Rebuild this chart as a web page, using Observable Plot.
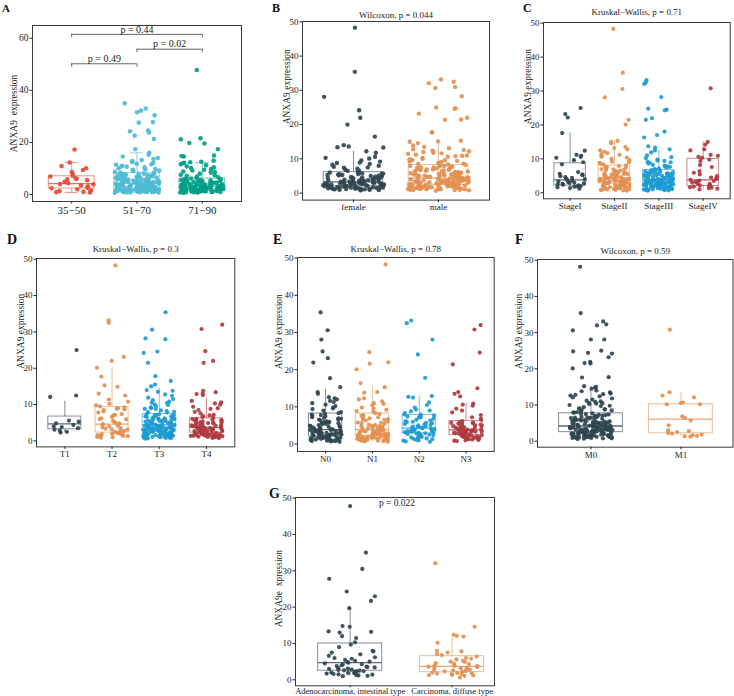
<!DOCTYPE html>
<html><head><meta charset="utf-8">
<script src="https://cdn.jsdelivr.net/npm/d3@7"></script>
<script src="https://cdn.jsdelivr.net/npm/@observablehq/plot@0.6"></script>
<style>
body{margin:0;background:#fff;}
#fig{position:relative;width:734px;height:696px;overflow:hidden;font-family:"Liberation Serif",serif;background:#fff;}
.panel{position:absolute;}
.letter{position:absolute;font-weight:bold;line-height:1;color:#111;font-family:"Liberation Serif",serif;}
</style></head><body><div id="fig"></div>
<script>
// ---------------- data ----------------
const ageCats = ["35−50","51−70","71−90"];
const age35_50 = [17.3,12.3,10.9,10.1,9.4,8.6,8.0,7.2,6.9,6.2,6.0,5.8,5.5,4.9,4.3,4.0,3.9,3.5,3.1,2.6,2.4,2.0,1.6,1.3,1.0,0.9,0.8];
const age51_70 = [35.0,33.0,32.2,31.6,30.4,27.8,27.6,24.6,24.3,23.8,22.6,21.3,17.4,16.0,15.3,14.6,14.0,13.6,13.2,12.8,12.5,12.1,11.8,11.4,11.0,10.7,10.4,10.1,9.8,9.5,9.2,9.0,8.7,8.4,8.2,8.0,7.8,7.6,7.4,7.2,7.0,6.8,6.6,6.5,6.3,6.1,6.0,5.8,5.7,5.5,5.4,5.2,5.1,5.0,4.9,4.8,4.7,4.6,4.5,4.4,4.3,4.2,4.1,4.0,3.9,3.8,3.7,3.6,3.5,3.4,3.3,3.2,3.1,3.0,2.9,2.8,2.7,2.6,2.5,2.4,2.3,2.2,2.1,2.0,3.7,3.3,2.9,2.5,1.9,1.8,1.7,1.6,1.5,1.4,1.3,1.2,1.1,1.0,0.9,0.8,1.9,1.6,1.4,1.2,1.0,0.8,1.7,1.5,1.3,1.1,0.9,0.7,7.9,6.9,5.9,4.9,5.3,6.4,7.1,8.1,3.6,2.7,2.3,4.6,5.6,1.2,2.4,3.6,4.8,6.0,7.2,1.8,3.0,4.2,5.4,6.6,7.8,0.9,2.1,3.3,4.5,5.7,6.9,1.5,2.7,3.9,5.1,6.3,7.5,1.1,2.2,3.4,4.6,5.8,9.6,10.8,11.6,1.3,2.6,3.8,5.0];
const age71_90 = [47.8,21.6,21.2,19.8,19.6,17.4,15.0,14.8,14.6,13.0,12.6,12.4,12.2,12.0,11.6,11.2,10.8,10.4,9.8,9.2,8.8,8.4,8.0,7.6,7.2,6.9,6.6,6.3,6.1,6.0,5.8,5.6,5.4,5.2,5.0,4.8,4.6,4.4,4.2,4.0,3.8,3.6,3.4,3.2,5.5,4.5,3.5,5.1,4.1,3.3,3.1,3.0,2.9,2.8,2.7,2.6,2.5,2.4,2.3,2.2,2.1,2.0,3.0,2.8,2.6,2.4,2.2,2.0,2.9,2.5,2.1,1.9,1.8,1.7,1.6,1.5,1.4,1.3,1.2,1.1,1.0,0.9,0.8,0.7,1.8,1.5,1.2,0.9,1.6,1.3,1.0,3.4,2.7,4.3,3.9,1.1,2.2,3.3,4.4,5.5,1.6,2.7,3.8,4.9,0.8,1.9,3.0,4.1,5.2,1.4,2.5,3.6,4.7,5.8,1.2,2.3,3.4,0.9,2.0,3.1,4.2,7.4,8.6,9.5,10.2];
const ageQ1 = [2.3,2.0,2.0], ageMed = [4.2,4.3,3.2], ageQ3 = [7.0,8.2,6.1], ageLo = [0.8,0.7,0.7], ageHi = [12.3,16.0,12.2];
const bracketFrom = [1,2,1], bracketTo = [2,3,3], bracketY = [50.2,55.8,61.5];
const bracketLabel = ["p = 0.49","p = 0.02","p = 0.44"];

const sexCats = ["female","male"];
const female = [48.3,35.4,28.1,24.2,22.0,20.0,16.5,14.0,13.6,13.4,13.3,12.2,11.8,10.6,10.3,9.5,9.2,8.8,8.5,8.3,8.0,7.7,7.4,7.1,6.8,6.5,6.2,6.0,5.8,5.6,5.4,5.2,5.0,4.8,4.6,4.4,4.2,4.0,3.8,3.6,3.4,5.7,5.1,4.5,3.9,3.5,5.3,4.3,3.3,3.2,3.1,3.0,2.9,2.8,2.7,2.6,2.5,2.4,2.3,2.2,2.1,2.0,3.1,2.9,2.6,2.3,2.1,1.9,1.8,1.7,1.6,1.5,1.4,1.3,1.2,1.1,1.0,0.9,0.8,1.8,1.6,1.4,1.2,1.0,1.7,1.3,3.7,3.0,2.4,4.1,4.7,5.5,6.6,2.8,2.2,1.5,1.1,3.4,2.7,1.2,2.3,3.4,4.5,5.6,1.6,2.7,3.8,4.9,0.9,2.0,3.1,4.2,5.3,1.4,2.5,3.6,7.5,8.9,10.1];
const male = [33.2,32.5,32.1,31.0,30.7,28.3,25.0,24.8,24.6,23.2,22.0,21.5,21.4,17.8,17.7,15.3,15.1,15.0,14.6,13.5,13.1,12.8,12.6,12.4,12.2,11.8,11.5,11.2,10.9,10.6,10.3,10.0,9.7,9.4,9.1,8.8,8.5,8.3,8.1,7.9,7.7,7.5,7.3,7.1,6.9,6.7,6.5,6.3,6.1,5.9,5.7,5.5,5.3,5.1,4.9,4.7,4.5,8.0,7.4,6.8,6.2,5.6,5.0,4.6,7.6,6.4,5.2,4.4,4.3,4.2,4.1,4.0,3.9,3.8,3.7,3.6,3.5,3.4,3.3,3.2,3.1,3.0,2.9,2.8,2.7,2.6,2.5,2.4,4.0,3.6,3.2,2.8,3.8,3.0,2.3,2.2,2.1,2.0,1.9,1.8,1.7,1.6,1.5,1.4,1.3,1.2,1.1,1.0,0.9,0.8,2.2,1.9,1.6,1.3,1.0,2.0,1.5,1.1,7.0,6.0,5.4,4.8,3.4,2.6,1.8,1.2,8.6,9.9,11.0,5.8,4.2,3.3,2.5,1.7,0.7,1.2,2.4,3.6,4.8,6.0,7.2,1.8,3.0,4.2,5.4,6.6,7.8,0.9,2.1,3.3,4.5,5.7,6.9,1.5,2.7,3.9,5.1,6.3,7.5,1.1,2.2,3.4,4.6,5.8,9.6,10.8,11.6,1.3,2.6,3.8,5.0,8.4,9.2,12.0,13.9];
const sexQ1 = [2.0,2.4], sexMed = [3.3,4.4], sexQ3 = [6.1,8.2], sexLo = [0.8,0.7], sexHi = [12.2,15.3];

const stageCats = ["StageI","StageII","StageIII","StageIV"];
const stageI = [25.0,23.2,22.2,17.6,12.4,11.2,10.9,10.6,10.3,9.6,9.0,8.4,6.1,5.6,5.2,4.9,4.6,4.4,4.1,3.8,3.6,3.3,3.0,2.8,2.6,2.4,2.2,2.0,1.8,1.6,1.4,1.2,1.9,2.5,3.2,4.0,5.4,2.9];
const stageII = [48.3,35.4,30.6,28.1,21.5,20.1,15.3,15.0,14.6,13.5,13.2,12.5,12.1,11.7,11.2,10.8,10.4,10.0,9.6,9.2,8.8,8.4,8.1,7.9,7.6,7.3,7.0,6.7,6.4,6.1,5.8,5.5,5.2,4.9,4.6,4.4,7.7,6.5,5.4,4.7,4.3,4.2,4.0,3.8,3.6,3.4,3.2,3.0,2.9,2.8,2.7,4.1,3.7,3.3,3.1,2.6,2.5,2.4,2.2,2.0,1.8,1.6,1.4,1.2,1.0,0.8,0.6,2.3,1.9,1.5,1.1,0.7,2.1,1.7,1.3,0.9,6.9,5.9,5.0,3.5,2.8,4.8,3.9,3.0,2.2,1.6,1.0,9.0,10.6,12.8,11.4,1.2,2.3,3.4,4.5,5.6,6.7,1.6,2.7,3.8,4.9,6.0,0.9,2.0,3.1,4.2,5.3,7.4,8.6,1.4,2.5,3.6];
const stageIII = [33.2,32.5,32.1,28.2,24.8,24.5,24.3,22.0,21.5,18.0,17.0,16.3,13.7,13.3,12.8,12.5,11.9,11.0,10.5,9.8,9.4,9.0,8.6,8.2,7.8,7.4,7.0,6.7,6.6,6.4,6.2,6.0,5.8,5.6,5.4,5.2,5.0,4.8,4.6,4.4,4.2,4.0,3.9,6.5,5.5,4.5,6.1,5.1,4.1,3.8,3.7,3.6,3.5,3.4,3.3,3.2,3.1,3.0,2.9,2.8,2.7,3.8,3.4,3.0,3.6,3.2,2.8,2.6,2.5,2.4,2.3,2.2,2.1,2.0,1.9,1.8,1.7,1.6,1.5,1.4,1.3,1.2,1.1,1.0,0.9,0.8,0.7,2.4,2.0,1.6,1.2,0.8,2.2,1.8,1.4,1.0,7.2,6.3,5.3,4.7,4.3,3.9,3.5,3.1,2.7,9.1,8.0,7.6,5.9,5.7,4.9,2.9,2.5,2.1,1.5,1.1,0.6,1.2,2.3,3.4,4.5,5.6,6.6,1.6,2.7,3.8,4.9,6.0,0.9,2.0,3.1,4.2,5.3,1.4,2.5,3.6,7.9,8.8,9.5,10.2,1.0,2.2,3.3,4.4];
const stageIV = [30.8,15.0,14.2,12.8,12.5,11.2,10.9,10.6,10.3,9.8,9.4,8.2,7.6,6.4,5.9,5.4,4.9,4.5,4.1,3.8,3.5,3.2,3.0,2.7,2.4,2.2,2.0,1.8,1.6,1.4,1.2,1.0,3.4,2.6,1.9,3.6,4.3,1.5];
const stageQ1 = [2.1,2.7,2.7,2.0], stageMed = [3.8,4.4,3.9,3.8], stageQ3 = [8.7,8.0,6.7,10.0], stageLo = [1.2,0.6,0.6,1.0], stageHi = [17.6,15.3,12.5,15.0];

const tCats = ["T1","T2","T3","T4"];
const t1 = [25.0,12.5,12.1,5.6,5.3,4.8,4.4,4.0,3.5,3.1,2.8,2.5,2.3,3.8];
const t2 = [48.3,33.2,32.5,23.1,22.0,20.1,17.7,15.3,14.9,13.0,12.5,11.4,10.8,10.2,9.8,9.5,9.2,8.9,8.5,8.1,7.8,7.4,7.0,6.6,6.2,5.9,5.5,5.1,4.8,4.6,4.4,4.2,4.0,3.7,3.4,3.1,2.9,2.7,2.5,2.3,2.1,1.9,1.7,1.5,1.3,1.1,0.9,2.2,1.8,1.4,1.0,3.5,4.5,6.0,7.2,8.7,9.0,3.2,2.0,1.6];
const t3 = [35.4,30.6,28.2,28.0,24.6,24.2,21.5,17.8,16.5,15.5,15.0,14.0,13.8,13.5,12.8,12.4,11.9,11.2,10.8,10.4,10.0,9.6,9.2,8.8,8.4,8.0,7.6,7.3,7.2,7.0,6.8,6.6,6.4,6.2,6.0,5.8,5.6,5.4,5.2,5.0,4.8,4.6,4.4,7.1,6.5,5.9,5.3,4.7,6.9,6.1,5.5,4.9,4.3,4.2,4.1,4.0,3.9,3.8,3.7,3.6,3.5,3.4,3.3,3.2,3.1,3.0,2.9,2.8,2.7,2.6,4.0,3.6,3.2,2.8,3.8,3.4,3.0,2.5,2.4,2.3,2.2,2.1,2.0,1.9,1.8,1.7,1.6,1.5,1.4,1.3,1.2,1.1,1.0,0.9,0.8,0.7,0.6,2.4,2.0,1.6,1.2,0.8,2.2,1.8,1.4,1.0,9.0,8.2,7.8,5.7,4.5,3.5,2.5,1.5,11.5,9.9,6.3,5.1,1.2,2.3,3.4,4.5,5.6,6.7,1.6,2.7,3.8,4.9,6.0,0.9,2.0,3.1,4.2,5.3,1.4,2.5,3.6,7.9,8.8,10.5];
const t4 = [32.0,30.8,24.7,22.0,21.5,13.8,13.4,13.0,12.9,12.6,10.6,10.3,10.0,9.4,9.0,8.5,8.0,7.6,7.2,6.8,6.4,6.1,6.0,5.8,5.6,5.4,5.2,5.0,4.8,4.6,4.4,4.2,4.0,3.8,5.5,4.5,5.1,4.1,3.7,3.6,3.5,3.4,3.3,3.2,3.1,3.0,2.9,2.8,2.7,2.6,2.5,2.4,2.3,3.5,3.1,2.7,3.3,2.9,2.5,2.2,2.1,2.0,1.9,1.8,1.7,1.6,1.5,1.4,1.3,1.2,1.1,1.0,0.9,0.8,2.1,1.8,1.5,1.2,1.9,1.6,1.3,1.0,4.9,4.3,3.9,5.7,6.6,7.0,8.8,11.0,2.3,1.4,1.2,2.3,3.4,4.5,5.6,1.6,2.7,3.8,4.9,0.9,2.0,3.1,4.2,1.4,2.5,3.6];
const tQ1 = [3.2,2.3,2.6,2.3], tMed = [4.7,4.6,4.4,3.7], tQ3 = [6.7,9.3,7.4,6.2], tLo = [2.3,0.9,0.6,0.8], tHi = [10.9,20.1,14.5,11.8];

const nCats = ["N0","N1","N2","N3"];
const n0 = [35.4,30.6,28.1,24.9,23.1,21.9,17.7,15.3,14.0,13.5,12.3,12.0,11.6,11.0,10.6,10.2,9.8,9.4,9.0,8.6,8.3,8.1,7.8,7.5,7.2,6.9,6.6,6.3,6.0,5.7,5.4,5.1,4.8,4.5,4.2,4.0,7.6,6.8,6.1,5.3,4.6,7.0,5.9,4.9,3.9,3.8,3.7,3.5,3.4,3.3,3.1,3.0,2.9,2.7,2.6,2.5,2.3,2.2,2.1,2.0,3.6,3.2,2.8,2.4,3.8,2.9,2.2,1.9,1.8,1.7,1.6,1.5,1.4,1.3,1.2,1.1,1.0,0.9,0.8,0.7,0.6,1.9,1.6,1.3,1.0,1.7,1.4,1.1,0.8,5.6,4.4,3.5,2.6,1.5,9.6,12.6,11.3,1.2,2.3,3.4,4.5,5.6,6.7,1.6,2.7,3.8,4.9,0.9,2.0,3.1,4.2,1.4,2.5,3.6,7.9];
const n1 = [48.3,24.7,22.0,21.6,20.1,16.4,15.3,14.0,13.8,12.3,12.0,11.5,11.0,10.4,9.8,9.2,8.7,8.3,8.1,7.8,7.5,7.2,6.9,6.6,6.3,6.0,5.7,5.4,5.1,4.8,4.5,4.2,4.0,7.6,6.7,5.8,4.9,4.3,3.9,3.8,3.6,3.5,3.3,3.2,3.0,2.9,2.7,2.6,2.4,2.3,2.2,3.7,3.4,3.1,2.8,2.5,2.1,2.0,1.9,1.8,1.7,1.6,1.5,1.4,1.3,1.2,1.1,1.0,0.9,0.8,0.7,0.6,1.9,1.6,1.3,1.0,1.7,1.2,5.2,4.6,3.6,2.6,7.0,8.9,9.5,10.8,1.2,2.3,3.4,4.5,5.6,6.5,1.6,2.7,3.8,4.9,0.9,2.0,3.1,4.2,1.4,2.5];
const n2 = [33.2,32.5,28.1,24.1,17.8,12.9,12.7,12.5,11.2,10.5,9.8,9.3,8.8,8.3,7.9,7.7,7.4,7.1,6.8,6.5,6.2,5.9,5.6,5.3,5.0,4.7,4.4,7.5,6.3,5.1,4.3,4.2,4.0,3.9,3.7,3.6,3.4,3.3,3.1,3.0,2.9,4.1,3.5,3.2,2.8,2.7,2.5,2.3,2.1,1.9,1.7,1.5,1.3,1.1,0.9,0.7,2.6,2.2,1.8,1.4,1.0,0.6,5.7,4.6,3.8,3.0,2.4,6.0,5.4,4.8,9.0,8.0,7.2];
const n3 = [32.0,30.8,24.6,21.4,15.0,14.0,13.5,12.8,10.9,10.6,10.3,9.5,8.5,7.2,6.5,6.2,6.0,5.8,5.6,5.4,5.2,5.0,4.8,4.6,4.4,4.2,4.0,3.8,5.5,4.5,5.1,4.1,3.7,3.6,3.5,3.4,3.3,3.2,3.1,3.0,2.9,2.8,2.7,2.6,2.5,2.4,3.5,3.1,2.7,3.3,2.9,2.3,2.2,2.1,2.0,1.9,1.8,1.7,1.6,1.5,1.4,1.3,1.2,1.1,1.0,0.9,0.8,2.1,1.7,1.3,4.9,4.3,3.9,5.7,6.8,7.8,9.0];
const nQ1 = [2.0,2.2,2.9,2.4], nMed = [3.9,3.9,4.3,3.8], nQ3 = [8.2,8.2,7.8,6.2], nLo = [0.6,0.6,0.6,0.8], nHi = [14.7,15.3,12.9,10.9];

const mCats = ["M0","M1"];
const m0 = [48.2,35.4,33.1,32.3,32.0,30.6,28.1,28.1,25.0,24.8,24.4,24.2,23.2,21.9,21.6,21.5,20.1,17.7,17.6,15.2,15.0,14.8,14.5,13.8,13.5,13.2,12.8,12.4,12.1,11.8,11.5,11.2,10.9,10.6,10.3,10.0,9.7,9.4,9.1,8.8,8.5,8.2,7.9,7.7,7.5,7.3,7.1,6.9,6.7,6.5,6.3,6.1,5.9,5.7,5.5,5.3,5.1,4.9,4.7,4.5,4.3,7.6,7.0,6.4,5.8,5.2,4.6,7.4,6.8,6.2,5.6,5.0,4.4,4.2,4.1,4.0,3.9,3.8,3.7,3.6,3.5,3.4,3.3,3.2,3.1,3.0,2.9,2.8,2.7,2.6,2.5,4.1,3.8,3.5,3.2,2.9,2.6,4.0,3.6,3.1,2.7,2.4,2.3,2.2,2.1,2.0,1.9,1.8,1.7,1.6,1.5,1.4,1.3,1.2,1.1,1.0,0.9,0.8,0.7,0.6,2.3,2.0,1.7,1.4,1.1,0.8,2.2,1.9,1.6,1.3,1.0,2.4,1.8,1.2,8.0,6.6,5.4,4.8,3.9,3.0,2.5,1.5,9.0,8.6,6.0,5.0,3.4,2.8,2.1,0.9,10.4,11.0,12.6,13.0,14.0,9.8,7.2,4.4,3.7,2.0,1.6,1.1,1.2,2.3,3.4,4.5,5.6,6.7,1.6,2.7,3.8,4.9,6.0,0.9,2.0,3.1,4.2,5.3,1.4,2.5,3.6,7.9,8.8,10.5,1.1,2.2,3.3,4.4,5.5,6.5,1.7,2.8,3.9,5.0,1.3,2.4,3.5,4.6];
const m1 = [30.8,13.5,12.6,12.1,10.7,10.5,10.2,10.2,6.9,6.4,5.7,4.4,3.0,2.8,2.5,2.3,2.1,1.8,1.6,1.5,1.4,1.3];
const mQ1 = [2.5,2.2], mMed = [4.2,6.1], mQ3 = [7.7,10.2], mLo = [0.6,1.3], mHi = [15.2,13.5];

const histCats = ["Adenocarcinoma, intestinal type","Carcinoma, diffuse type"];
const adeno = [47.8,35.0,30.5,27.8,24.3,23.0,21.7,19.7,14.8,14.6,13.3,13.2,13.0,12.0,11.5,10.3,9.7,9.0,8.0,7.8,7.5,7.0,6.6,6.2,5.8,5.5,5.2,4.9,4.7,4.5,4.3,4.0,3.8,3.6,3.4,3.2,3.0,2.8,2.6,2.5,2.4,2.3,2.2,2.0,1.9,1.8,1.6,1.5,1.4,1.3,1.2,1.1,1.0,3.5,3.1,2.7,2.1,1.7,4.2,5.0,6.0];
const diffuse = [32.1,14.6,12.4,12.1,11.9,10.2,8.0,7.8,7.5,7.1,6.8,6.4,6.0,5.8,5.6,5.2,4.9,4.6,4.3,4.0,3.8,3.6,3.4,3.2,3.0,2.8,2.6,2.4,2.2,2.0,1.9,1.8,1.6,1.5,1.4,1.3,1.2,1.1,0.6,3.9,3.5,3.1,2.7,2.3,1.7,4.4,5.0];
const histQ1 = [2.5,2.1], histMed = [4.7,3.7], histQ3 = [10.0,6.5], histLo = [1.0,0.6], histHi = [19.7,12.4];

const ticks60 = [0,20,40,60], ticks50 = [0,10,20,30,40,50];
const npg = ["#E64B35","#4DBBD5","#00A087"];
const pal = ["#30454F","#E39050","#1E9AD3","#AF3A40"];

// ---------------- drawing ----------------
const fig = document.getElementById("fig");
const hash = i => { const s = Math.sin(i * 12.9898 + 78.233) * 43758.5453; return (s - Math.floor(s)) * 2 - 1; };

function panel(c) {
  const svgLeft = Math.max(0, c.left - 40);
  const ml = c.left - svgLeft, mt = 16, mb = c.mb || 20, mr = Math.max(0, Math.min(4, 734 - c.right));
  const W = c.right - c.left + ml + mr, H = c.bottom - c.top + mt + mb;
  const idx = c.cats.map((_, i) => i + 1);
  const boxes = idx.map(i => ({i, q1: c.q1[i-1], med: c.med[i-1], q3: c.q3[i-1], lo: c.lo[i-1], hi: c.hi[i-1], col: c.colors[i-1]}));
  const pts = [];
  c.groups.forEach((arr, g) => arr.forEach((v, j) => pts.push({x: g + 1 + c.jitter * hash(j + 1 + g * 503 + c.seed), y: v, col: c.colors[g]})));
  const bw = c.boxHalf;
  const marks = [
    Plot.ruleX(boxes, {x: "i", y1: "q3", y2: "hi", stroke: "col", strokeOpacity: 0.6}),
    Plot.ruleX(boxes, {x: "i", y1: "lo", y2: "q1", stroke: "col", strokeOpacity: 0.6})
  ];
  if (c.caps) {
    marks.push(Plot.ruleY(boxes, {y: "hi", x1: d => d.i - c.caps, x2: d => d.i + c.caps, stroke: "col", strokeOpacity: 0.6}));
    marks.push(Plot.ruleY(boxes, {y: "lo", x1: d => d.i - c.caps, x2: d => d.i + c.caps, stroke: "col", strokeOpacity: 0.6}));
  }
  marks.push(
    Plot.rect(boxes, {x1: d => d.i - bw, x2: d => d.i + bw, y1: "q1", y2: "q3", fill: "white", fillOpacity: 0.25, stroke: "col", strokeOpacity: 0.6, strokeWidth: 1}),
    Plot.ruleY(boxes, {y: "med", x1: d => d.i - bw, x2: d => d.i + bw, stroke: "col", strokeOpacity: 0.8, strokeWidth: 1.3}),
    Plot.dot(pts, {x: "x", y: "y", r: c.r, fill: "col", fillOpacity: 0.92}),
    Plot.frame({stroke: "#3a3a3a", strokeWidth: 1}),
    Plot.axisY({ticks: c.yTicks, tickSize: 2.5, tickPadding: 1.5, fontSize: c.yFont || 9, label: null}),
    Plot.axisX({ticks: idx, tickFormat: i => c.cats[i - 1], tickSize: c.xTick || 2.5, tickPadding: c.xPad || 1.5, fontSize: c.xFont || 9, label: null}),
    Plot.text([c.yLabel], {text: d => d, frameAnchor: "left", textAnchor: "middle", rotate: -90, dx: c.yLabelDx, dy: c.yLabelDy || 0, fontSize: 9.5, lineAnchor: "middle"})
  );
  if (c.title) marks.push(Plot.text([c.title], {text: d => d, frameAnchor: "top", textAnchor: "middle", dy: c.titleDy, fontSize: 9, lineAnchor: "middle"}));
  if (c.extra) marks.push(...c.extra);
  const svg = Plot.plot({
    width: W, height: H, marginLeft: ml, marginRight: mr, marginTop: mt, marginBottom: mb,
    x: {domain: c.xDomain}, y: {domain: c.yDomain},
    style: {fontFamily: '"Liberation Serif", serif', fontSize: "9px", color: "#222", background: "transparent", overflow: "visible"},
    marks
  });
  const div = document.createElement("div");
  div.className = "panel";
  div.style.left = svgLeft + "px";
  div.style.top = (c.top - mt) + "px";
  div.appendChild(svg);
  fig.appendChild(div);
}

function letter(t, left, top, size) {
  const d = document.createElement("div");
  d.className = "letter";
  d.textContent = t;
  d.style.left = left + "px"; d.style.top = top + "px"; d.style.fontSize = size + "px";
  fig.appendChild(d);
}

// A brackets
const brackets = bracketFrom.map((f, k) => ({x1: f, x2: bracketTo[k], y: bracketY[k], label: bracketLabel[k]}));
const bracketMarks = [
  Plot.ruleY(brackets, {y: "y", x1: "x1", x2: "x2", stroke: "#555", strokeWidth: 0.9}),
  Plot.ruleX(brackets, {x: "x1", y1: d => d.y - 1.3, y2: "y", stroke: "#555", strokeWidth: 0.9}),
  Plot.ruleX(brackets, {x: "x2", y1: d => d.y - 1.3, y2: "y", stroke: "#555", strokeWidth: 0.9}),
  Plot.text(brackets, {x: d => (d.x1 + d.x2) / 2, y: "y", text: "label", dy: -5, fontSize: 10, lineAnchor: "middle"})
];

panel({left: 32, top: 25, right: 241, bottom: 201, xDomain: [0.4, 3.6], yDomain: [-2.69, 64.9], yTicks: ticks60,
  cats: ageCats, colors: npg, groups: [age35_50, age51_70, age71_90], q1: ageQ1, med: ageMed, q3: ageQ3, lo: ageLo, hi: ageHi,
  boxHalf: 0.35, jitter: 0.34, r: 2.3, caps: 0.1, yLabel: "ANXA9  expression", yLabelDx: -19, xFont: 11, yFont: 9.5, xPad: 2.5,
  extra: bracketMarks, seed: 1});
panel({left: 302, top: 20.7, right: 489, bottom: 199.3, xDomain: [0.4, 2.6], yDomain: [-2.04, 50.1], yTicks: ticks50,
  cats: sexCats, colors: pal, groups: [female, male], q1: sexQ1, med: sexMed, q3: sexQ3, lo: sexLo, hi: sexHi,
  boxHalf: 0.35, jitter: 0.36, r: 2.2, yLabel: "ANXA9 expression", yLabelDx: -15.3, yLabelDy: -24, title: "Wilcoxon, p = 0.044", titleDy: -6.7, seed: 7});
panel({left: 543.3, top: 22, right: 730, bottom: 198.3, xDomain: [0.4, 4.61], yDomain: [-1.77, 50.2], yTicks: ticks50,
  cats: stageCats, colors: pal, groups: [stageI, stageII, stageIII, stageIV], q1: stageQ1, med: stageMed, q3: stageQ3, lo: stageLo, hi: stageHi,
  boxHalf: 0.355, jitter: 0.34, r: 2.1, yLabel: "ANXA9 expression", yLabelDx: -15.5, yLabelDy: -24, title: "Kruskal−Wallis, p = 0.71", titleDy: -10, seed: 13});
panel({left: 36, top: 258.3, right: 234.3, bottom: 446.7, xDomain: [0.4, 4.6], yDomain: [-1.65, 50.2], yTicks: ticks50,
  cats: tCats, colors: pal, groups: [t1, t2, t3, t4], q1: tQ1, med: tMed, q3: tQ3, lo: tLo, hi: tHi,
  boxHalf: 0.35, jitter: 0.34, r: 2.1, yLabel: "ANXA9 expression", yLabelDx: -16, yLabelDy: -21.5, title: "Kruskal−Wallis, p = 0.3", titleDy: -9, seed: 19});
panel({left: 297, top: 256.7, right: 493.7, bottom: 450.7, xDomain: [0.4, 4.6], yDomain: [-2.0, 50.16], yTicks: ticks50,
  cats: nCats, colors: pal, groups: [n0, n1, n2, n3], q1: nQ1, med: nMed, q3: nQ3, lo: nLo, hi: nHi,
  boxHalf: 0.355, jitter: 0.34, r: 2.1, yLabel: "ANXA9 expression", yLabelDx: -18.7, yLabelDy: -22.7, title: "Kruskal−Wallis, p = 0.78", titleDy: -8.7, seed: 29});
panel({left: 536.5, top: 259, right: 732, bottom: 446.7, xDomain: [0.406, 2.578], yDomain: [-1.65, 50.2], yTicks: ticks50,
  cats: mCats, colors: pal, groups: [m0, m1], q1: mQ1, med: mMed, q3: mQ3, lo: mLo, hi: mHi,
  boxHalf: 0.354, jitter: 0.24, r: 2.1, yLabel: "ANXA9 expression", yLabelDx: -18.2, yLabelDy: -22, title: "Wilcoxon, p = 0.59", titleDy: -8.3, seed: 37});
panel({left: 295, top: 496.7, right: 494, bottom: 685, xDomain: [0.464, 2.415], yDomain: [-1.65, 50.17], yTicks: ticks50,
  cats: histCats, colors: pal, groups: [adeno, diffuse], q1: histQ1, med: histMed, q3: histQ3, lo: histLo, hi: histHi,
  boxHalf: 0.314, jitter: 0.25, r: 2.1, yLabel: "ANXA9e  xpression", yLabelDx: -16.7, yLabelDy: -3, seed: 43,
  xFont: 8.5, xTick: 2, xPad: 0.5, mb: 11,
  extra: [Plot.text(["p = 0.022"], {text: d => d, frameAnchor: "top", textAnchor: "middle", dx: 2, dy: 5.5, fontSize: 9.5, lineAnchor: "middle"})]});

letter("A", 2, 3, 11);
letter("B", 272, 2, 12);
letter("C", 523, 2, 12);
letter("D", 7, 232.5, 14);
letter("E", 273, 232.5, 14);
letter("F", 515, 232.5, 14);
letter("G", 269, 486.5, 14);
</script>
</body></html>
